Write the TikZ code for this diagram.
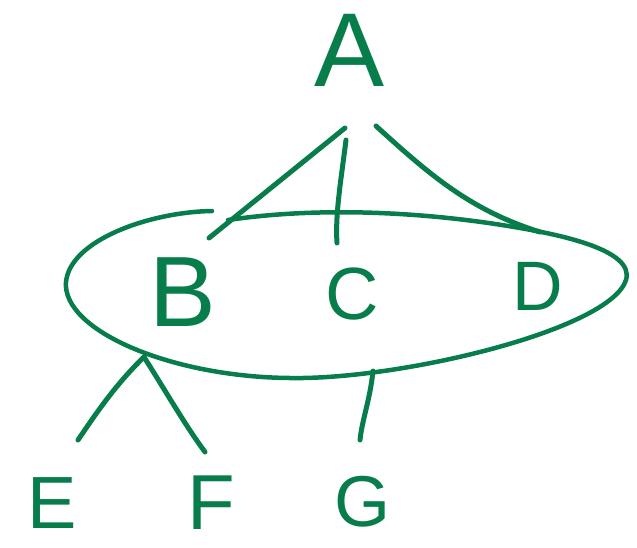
\documentclass[tikz,border=0pt]{standalone}
\usepackage{fontspec}
\setmainfont{Liberation Sans}
\definecolor{ink}{RGB}{8,125,76}
\begin{document}
\begin{tikzpicture}[x=1pt,y=-1pt,
  pen/.style={draw=ink,line width=5pt,line cap=round,line join=round},
  letter/.style={text=ink,inner sep=0pt,anchor=center}]
\useasboundingbox (0,0) rectangle (637,547);
% letters
\node[letter,font=\fontsize{105}{105}\selectfont] (A) at (350,50) {A};
\node[letter,font=\fontsize{100}{100}\selectfont] (B) at (183,292) {B};
\node[letter,font=\fontsize{74}{74}\selectfont] (C) at (352,294) {C};
\node[letter,font=\fontsize{70}{70}\selectfont] (D) at (538,286) {D};
\node[letter,font=\fontsize{74}{74}\selectfont] (E) at (52,503) {E};
\node[letter,font=\fontsize{78}{78}\selectfont] (F) at (211,503) {F};
\node[letter,font=\fontsize{72}{72}\selectfont] (G) at (362,502) {G};
% connector end points
\coordinate (a1) at (345,128);
\coordinate (b1) at (209,238);
\coordinate (a2) at (346,140);
\coordinate (c1) at (337,243);
\coordinate (a3) at (376,126);
\coordinate (d1) at (540,232);
\coordinate (b2) at (144,357);
\coordinate (e1) at (78,440);
\coordinate (f1) at (205,452);
\coordinate (c2) at (373,371);
\coordinate (g1) at (360,440);
% connectors
\draw[pen] (a1) -- (b1);
\draw[pen] (a2) .. controls (341,180) and (335,215) .. (c1);
\draw[pen] (a3) .. controls (430,175) and (470,210) .. (d1);
\draw[pen] (b2) .. controls (115,385) and (95,415) .. (e1);
\draw[pen] (b2) .. controls (165,390) and (185,425) .. (f1);
\draw[pen] (c2) .. controls (370,400) and (362,420) .. (g1);
% the oval around B, C, D
\draw[pen,line width=4.5pt] (212,211) .. controls (150,212) and (70,240) .. (66,282)
  .. controls (62,330) and (170,377) .. (290,378)
  .. controls (400,380) and (610,330) .. (626,280)
  .. controls (635,250) and (560,235) .. (520,228)
  .. controls (440,214) and (330,205) .. (228,220);
\end{tikzpicture}
\end{document}
